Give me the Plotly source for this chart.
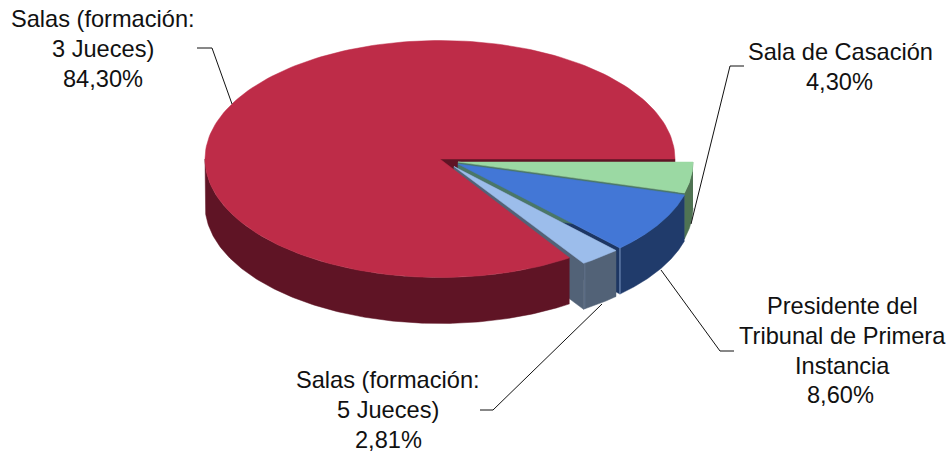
import numpy as np
import plotly.graph_objects as go

# slices, clockwise starting from 3 o'clock
names = ['Sala de Casación', 'Presidente del Tribunal de Primera Instancia',
         'Salas (formación: 5 Jueces)', 'Salas (formación: 3 Jueces)']
values = [4.30, 8.60, 2.81, 84.30]
top_colors = ['#9BD9A3', '#4377D6', '#9CBDEB', '#BE2C48']
side_colors = ['#4F7353', '#203B6B', '#526277', '#5F1425']
face_colors = ['#4A7768', '#1D3663', '#526277', '#5F1425']

# pie geometry in page pixels: centre x, centre y, radius x, radius y per slice
centres = [(458, 162, 235, 116), (458, 164, 235, 116), (454, 166.5, 235, 116), (440, 159, 235, 118.5)]
depth = 46

# labels: one entry per line (text, x, y)
label_lines = [
    ('Salas (formación:', 103, 19), ('3 Jueces)', 103, 49), ('84,30%', 103, 79),
    ('Sala de Casación', 840, 52), ('4,30%', 839, 82),
    ('Presidente del', 842, 306), ('Tribunal de Primera', 842, 336), ('Instancia', 842, 366), ('8,60%', 840, 395),
    ('Salas (formación:', 388, 380), ('5 Jueces)', 388, 410), ('2,81%', 388, 440),
]
leader_lines = [
    ([197, 212, 232], [48, 48, 104]),
    ([744, 730, 691], [66, 66, 224]),
    ([661, 720, 734], [270, 351, 351]),
    ([602, 493, 480], [304, 410, 410]),
]

edges = np.concatenate([[0], np.cumsum(values)]) / sum(values) * 2 * np.pi


def arc(i, t0, t1):
    cx, cy, rx, ry = centres[i]
    t = np.linspace(t0, t1, 200)
    return cx + rx * np.cos(t), cy + ry * np.sin(t)


def poly(x, y, color, line=None):
    return go.Scatter(x=x, y=y, mode='lines', fill='toself', fillcolor=color,
                      line=dict(color=line or color, width=0.5), hoverinfo='skip', showlegend=False)


fig = go.Figure()

# radial faces that show through the gaps between the slices
for i, t in [(3, edges[0]), (1, edges[2]), (0, edges[1]), (2, edges[2]), (2, edges[3])]:
    cx, cy, rx, ry = centres[i]
    ox, oy = cx + rx * np.cos(t), cy + ry * np.sin(t)
    fig.add_trace(poly([cx, ox, ox, cx, cx], [cy, oy, oy + depth, cy + depth, cy], face_colors[i]))

# outer walls, only the front half can be seen
for i in range(4):
    t0, t1 = edges[i], min(edges[i + 1], np.pi)
    x, y = arc(i, t0, t1)
    fig.add_trace(poly(np.concatenate([x, x[::-1]]), np.concatenate([y, y[::-1] + depth]), side_colors[i]))

# lighter seams on the wall
for i, t, c in [(1, edges[2], '#6F8AB5'), (2, edges[2] + 0.17, '#5F7088')]:
    cx, cy, rx, ry = centres[i]
    ox, oy = cx + rx * np.cos(t), cy + ry * np.sin(t)
    fig.add_trace(go.Scatter(x=[ox, ox], y=[oy, oy + depth], mode='lines', line=dict(color=c, width=1.2),
                             hoverinfo='skip', showlegend=False))

# top faces, big slice first
for i in [3, 2, 1, 0]:
    cx, cy, rx, ry = centres[i]
    x, y = arc(i, edges[i], edges[i + 1])
    fig.add_trace(poly(np.concatenate([[cx], x, [cx]]), np.concatenate([[cy], y, [cy]]), top_colors[i]))

for x, y in leader_lines:
    fig.add_trace(go.Scatter(x=x, y=y, mode='lines', line=dict(color='#111111', width=1),
                             hoverinfo='skip', showlegend=False))

for text, x, y in label_lines:
    fig.add_annotation(x=x, y=y, text=text, showarrow=False, xanchor='center', yanchor='middle',
                       font=dict(family='Liberation Sans', size=23.6, color='#111111'))

fig.update_layout(width=951, height=454, margin=dict(l=0, r=0, t=0, b=0),
                  paper_bgcolor='white', plot_bgcolor='white', showlegend=False,
                  xaxis=dict(range=[0, 951], visible=False, fixedrange=True),
                  yaxis=dict(range=[454, 0], visible=False, fixedrange=True))
fig.write_html('out.html', config={'displayModeBar': False}, post_script="document.body.style.margin='0'")
